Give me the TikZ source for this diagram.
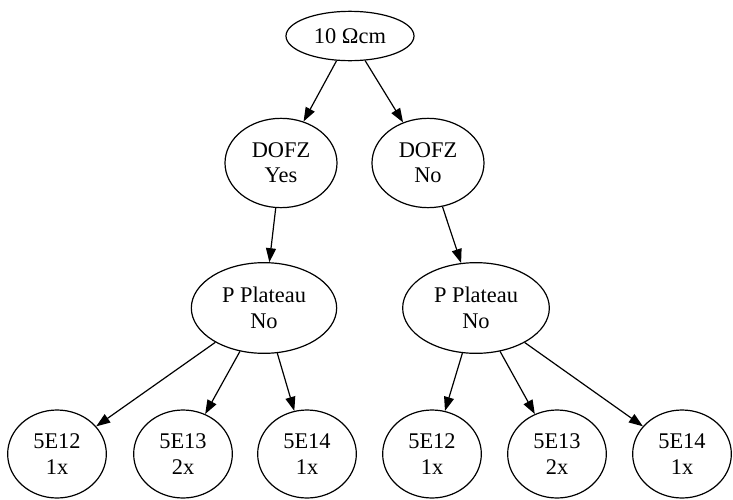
\documentclass[tikz,border=0pt]{standalone}
\usepackage{fontspec}
\setmainfont{Liberation Serif}
\usetikzlibrary{shapes.geometric, arrows.meta}

\begin{document}
\begin{tikzpicture}[x=0.75pt, y=-0.75pt,
        state/.style={draw, ellipse, line width=0.9pt, inner sep=0pt, align=center,
            font=\fontsize{16.8}{19}\selectfont},
        edge/.style={line width=0.9pt, -{Triangle[length=10.5pt, width=7.5pt]}}]

        \useasboundingbox (0,0) rectangle (733,500);

        % Resistivity
        \node[state, minimum width=96pt, minimum height=37pt] (root) at (350,36) {10 Ωcm};

        % DOFZ
        \node[state, minimum width=84pt, minimum height=67pt] (dofzyes) at (281,163) {DOFZ\\Yes};
        \node[state, minimum width=84pt, minimum height=67pt] (dofzno) at (428,163) {DOFZ\\No};

        % P Plateau
        \node[state, minimum width=109pt, minimum height=68pt] (platleft) at (264,308) {P Plateau\\No};
        \node[state, minimum width=110pt, minimum height=68pt] (platright) at (476,308) {P Plateau\\No};

        % Fluences
        \foreach \x/\d/\n [count=\i] in {57/5E12/1x, 183/5E13/2x, 307/5E14/1x, 432/5E12/1x, 557/5E13/2x, 682/5E14/1x}{
            \node[state, minimum width=74pt, minimum height=66pt] (dose\i) at (\x,454) {\d\\\n};
        }

        \draw[edge] (root) -- (dofzyes);
        \draw[edge] (root) -- (dofzno);
        \draw[edge] (dofzyes) -- (platleft);
        \draw[edge] (dofzno) -- (platright);
        \foreach \i in {1,2,3}{
            \draw[edge] (platleft) -- (dose\i);
        }
        \foreach \i in {4,5,6}{
            \draw[edge] (platright) -- (dose\i);
        }
    \end{tikzpicture}
\end{document}
